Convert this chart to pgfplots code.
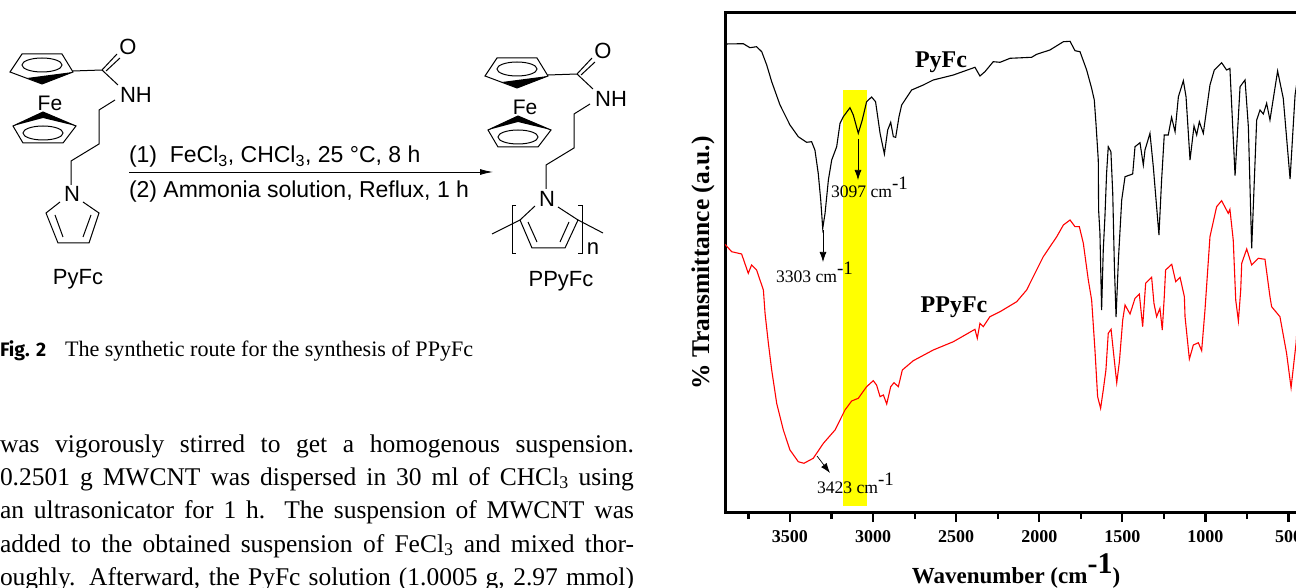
\documentclass[border=0pt]{standalone}
\usepackage{pgfplots}
\usepackage{fontspec}
\usetikzlibrary{arrows.meta}
\pgfplotsset{compat=1.18}
\setmainfont{Liberation Serif}
\newfontfamily\arial{Liberation Sans}
\newfontfamily\fira{Fira Sans}
\newcommand{\fs}[1]{\fontsize{#1}{#1}\selectfont}
\definecolor{yy}{RGB}{255,255,0}
\definecolor{rr}{RGB}{255,0,0}
\pgfplotstableread{
w y
3891 468
3781 468.3
3741 464.3
3701 465.3
3670 460.3
3640 447
3610 430.3
3560 407
3500 387
3450 375.3
3400 369.7
3370 370.3
3350 362
3330 338.7
3315 312
3303 283.7
3289 298.7
3269 332
3249 352
3219 365.3
3199 388.7
3179 395.3
3139 404.3
3119 397
3089 378.7
3065 392
3039 410.3
3009 415
2985 410.3
2958 378.7
2932 358
2912 382
2894 389.7
2878 375.3
2864 374.7
2844 395.3
2828 407
2768 422
2698 427
2638 432
2517 437
2387 444.7
2357 436
2327 440.3
2277 450.3
2236 449.7
2176 453.7
2046 454.7
2016 457.7
1936 462
1855 470.3
1815 470.7
1785 461.3
1755 460.3
1715 442
1685 423.7
1669 412
1659 388.7
1645 352
1643 302
1635 278.7
1625 202
1615 262
1605 295.3
1595 338.7
1585 365.3
1569 360.3
1558 318.7
1548 245.3
1538 195
1524 252
1504 312
1484 335.3
1438 338
1424 365.3
1394 369.3
1374 347
1364 362
1334 378.7
1314 345.3
1294 305.3
1280 277
1264 332
1248 377
1224 377
1204 394.7
1183 380.3
1163 415.3
1133 431.3
1117 415.3
1093 352
1069 386
1053 377
1037 390.3
1013 378.7
973 427
947 442
903 449.3
873 442
853 443.7
822 336.3
792 425.3
762 432
742 385.3
722 263.7
692 392
672 402
652 398
632 408.7
612 392
566 441
532 413.7
491 333
461 417
440 440
}\blacktable
\pgfplotstableread{
w y
3891 267.7
3851 260.3
3791 258
3751 238.7
3731 247
3701 242
3660 222
3650 198.7
3630 168.7
3610 142
3580 108.7
3540 82
3500 62
3450 50.3
3416 48.7
3360 53.7
3299 68.7
3229 82
3169 102
3129 111
3089 113.7
3039 125.3
2999 131.3
2979 127
2958 115.3
2938 117
2918 108
2894 125.3
2874 129.3
2848 125.3
2824 142
2758 151.3
2638 162
2517 170.3
2387 182.7
2373 173.7
2357 188.7
2337 185.3
2297 195.3
2236 200.3
2136 210.3
2076 222
2056 228.7
1976 255.3
1895 275.3
1855 287
1815 292
1785 285.3
1759 285.3
1735 268.7
1705 232
1685 212
1665 162
1649 115.3
1631 103.7
1615 122
1599 142
1585 178.7
1568 182.7
1554 160.3
1534 129.3
1518 150.3
1498 192
1484 207
1454 198
1424 213.7
1398 218
1378 185.3
1360 228.7
1324 234.7
1310 208.7
1294 195.3
1274 203.7
1260 182
1248 215
1240 242
1203 247.7
1179 230.3
1153 234.7
1127 215.3
1123 195.3
1097 153
1073 167
1043 169.3
1023 161.3
1003 202
973 275.3
933 305.3
903 311.3
863 298.7
853 302.7
833 272
818 212
802 191
788 222
782 248.7
752 263
722 247
682 253.7
642 252.7
612 215.3
602 205.3
552 195.3
512 158.7
485 124.3
455 168.7
430 230
}\redtable
\begin{document}
\begin{tikzpicture}[x=1pt,y=1pt]
\clip (0,0) rectangle (1296,587);
\fill[white] (0,0) rectangle (1296,587);
\begin{axis}[
  at={(725pt,75pt)},anchor=south west,scale only axis,
  width=580.2pt,height=499pt,
  x dir=reverse,xmin=400,xmax=3891,ymin=0,ymax=499,
  clip=true,
  axis line style={line width=3pt},
  xtick={500,1000,...,3500},
  minor xtick={750,1250,...,3750},
  ytick=\empty,
  xtick pos=lower,tick align=outside,
  major tick length=10pt,minor tick length=7pt,
  every tick/.style={black,line width=2.2pt},
  minor tick style={black,line width=2.2pt},
  x tick label style={font=\bfseries\fs{18},/pgf/number format/assume math mode=true,/pgf/number format/1000 sep={},yshift=-5pt},
]
\addplot[fill=yy,draw=none] coordinates {(3179,6) (3037,6) (3037,422) (3179,422)} --cycle;
\addplot[rr,line width=1.1pt] table[x=w,y=y] {\redtable};
\addplot[black,line width=1.1pt] table[x=w,y=y] {\blacktable};
\end{axis}
\begin{scope}[y=-1pt,shift={(0,-587)},every node/.style={inner sep=0pt,outer sep=0pt}]
% chart annotations
\node[anchor=base,font=\bfseries\fs{24}] at (941,68) {PyFc};
\node[anchor=base,font=\bfseries\fs{24}] at (954,313) {PPyFc};
\node[anchor=base west,font=\fs{17.6}] at (831,198) {3097 cm\raisebox{8pt}{\fs{19}-1}};
\node[anchor=base west,font=\fs{17.6}] at (776,283) {3303 cm\raisebox{8pt}{\fs{19}-1}};
\node[anchor=base west,font=\fs{17.6}] at (817,493) {3423 cm\raisebox{8pt}{\fs{19}-1}};
\draw[-{Latex[length=10pt,width=7pt]},line width=.7pt] (858,139) -- (858,180);
\draw[-{Latex[length=10pt,width=7pt]},line width=.7pt] (823,230) -- (823,262);
\draw[-{Latex[length=10pt,width=7pt]},line width=.7pt] (817,456) -- (830,473);
\node[rotate=90,anchor=base,font=\bfseries\fs{25.5}] at (709,263) {\% Transmittance (a.u.)};
\node[anchor=base,font=\bfseries\fs{23}] at (1016,583) {Wavenumber (cm\raisebox{10pt}{\fs{30}-1})};
% caption and text
\node[anchor=base west,font=\fira\bfseries\fs{19.5}] at (0,357) {Fig. 2};
\node[anchor=base west,font=\fs{22.1}] at (65,357) {The synthetic route for the synthesis of PPyFc};
\def\tline#1#2{\node[anchor=base west,font=\fs{25.5}] at (0,#1) {\makebox[634pt][s]{#2}};}
\tline{452}{was vigorously stirred to get a homogenous suspension.}
\tline{485}{0.2501 g MWCNT was dispersed in 30 ml of CHCl\textsubscript{3} using}
\tline{518}{an ultrasonicator for 1 h. The suspension of MWCNT was}
\tline{552}{added to the obtained suspension of FeCl\textsubscript{3} and mixed thor-}
\tline{585}{oughly. Afterward, the PyFc solution (1.0005 g, 2.97 mmol)}
% scheme left
\begin{scope}[line width=1pt]
\draw (10,72) -- (22,54) -- (62,54) -- (73,72) -- (42,84) -- cycle;
\fill (27,78) -- (42,84) -- (73,72) -- cycle;
\draw (42,65) ellipse (20 and 7);
\draw (73,71) -- (102,70) -- (117,54);
\draw (106,71) -- (120,58);
\draw (102,70) -- (118,85);
\node[anchor=base,font=\arial\fs{22}] at (128,55) {O};
\node[anchor=base,font=\arial\fs{22}] at (136,103) {NH};
\node[anchor=base,font=\arial\fs{21}] at (50,111) {Fe};
\draw (13,126) -- (23,143) -- (63,143) -- (76,126) -- (43,112) -- cycle;
\fill (13,126) -- (43,112) -- (76,126) -- (43,118) -- cycle;
\draw (43,133) ellipse (20 and 7);
\draw (115,100) -- (99,110) -- (99,144) -- (71,161) -- (71,185);
\node[anchor=base,font=\arial\fs{22}] at (72,202) {N};
\draw (60,202) -- (46,213) -- (58,243) -- (89,243) -- (99,213) -- (83,202);
\draw (55,215) -- (63,237) (91,215) -- (83,237);
\node[anchor=base,font=\arial\fs{22}] at (78,285) {PyFc};
\end{scope}
% arrow
\node[anchor=base west,font=\arial\fs{23}] at (129,163) {(1)\ \ FeCl\textsubscript{3}, CHCl\textsubscript{3}, 25 °C, 8 h};
\draw[-{Latex[length=13pt,width=6pt]},line width=.9pt] (129,172) -- (493,172);
\node[anchor=base west,font=\arial\fs{23}] at (129,198) {(2) Ammonia solution, Reflux, 1 h};
% scheme right
\begin{scope}[line width=1pt,xshift=475pt,yshift=-4pt]
\draw (10,72) -- (22,54) -- (62,54) -- (73,72) -- (42,84) -- cycle;
\fill (27,78) -- (42,84) -- (73,72) -- cycle;
\draw (42,65) ellipse (20 and 7);
\draw (73,71) -- (102,70) -- (117,54);
\draw (106,71) -- (120,58);
\draw (102,70) -- (118,85);
\node[anchor=base,font=\arial\fs{22}] at (128,55) {O};
\node[anchor=base,font=\arial\fs{22}] at (136,103) {NH};
\node[anchor=base,font=\arial\fs{21}] at (50,111) {Fe};
\draw (13,126) -- (23,143) -- (63,143) -- (76,126) -- (43,112) -- cycle;
\fill (13,126) -- (43,112) -- (76,126) -- (43,118) -- cycle;
\draw (43,133) ellipse (20 and 7);
\draw (115,100) -- (99,110) -- (99,144) -- (71,161) -- (71,185);
\node[anchor=base,font=\arial\fs{22}] at (72,203) {N};
\draw (60,202) -- (45,216) -- (57,244) -- (90,244) -- (103,216) -- (83,203);
\draw (53,218) -- (62,238) (94,218) -- (85,238);
\draw (45,216) -- (17,230) (103,216) -- (128,229);
\draw (41,202) -- (37,202) -- (37,250) -- (41,250);
\draw (103,202) -- (107,202) -- (107,250) -- (103,250);
\node[anchor=base,font=\arial\fs{22}] at (118,251) {n};
\node[anchor=base,font=\arial\fs{22}] at (86,283) {PPyFc};
\end{scope}
\end{scope}
\end{tikzpicture}
\end{document}
